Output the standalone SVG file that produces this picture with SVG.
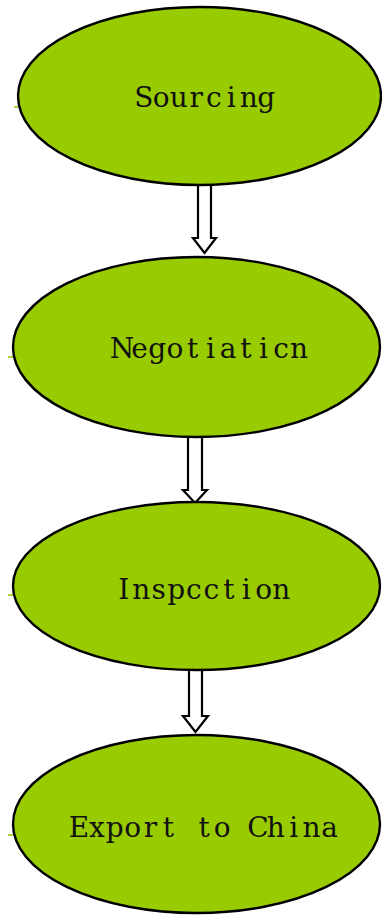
<svg xmlns="http://www.w3.org/2000/svg" width="382" height="915" viewBox="0 0 382 915">
<style>
.node ellipse{fill:#99cc00;stroke:#000;stroke-width:2.4}
.node text{font-family:"DejaVu Serif","Liberation Serif",serif;font-size:28px;fill:#111;text-anchor:middle}
.tick{stroke:#8fc400;stroke-width:1.5}
.arrow{fill:#fff;stroke:#000;stroke-width:2.2;stroke-linejoin:miter}
</style>
<rect width="382" height="915" fill="#fff"/>
<g id="connectors">
<path class="arrow" d="M198,186 L198,238 L193,238 L204.5,253 L216,238 L211,238 L211,186"/>
<path class="arrow" d="M188,438 L188,490 L183,490 L195,503 L207,490 L202,490 L202,438"/>
<path class="arrow" d="M189,671 L189,716 L183,716 L195.5,732 L208,716 L202,716 L202,671"/>
</g>
<g id="sourcing" class="node">
<ellipse cx="199.5" cy="96" rx="181.5" ry="89"/>
<line class="tick" x1="14" y1="107" x2="18" y2="107"/>
<text x="143.8 161.3 178.8 196.3 213.8 231.3 248.8 266.3" y="107">Sourcing</text>
</g>
<g id="negotiation" class="node">
<ellipse cx="196.5" cy="347" rx="183.5" ry="90"/>
<line class="tick" x1="8" y1="357" x2="13" y2="357"/>
<text x="121.9 139.6 157.3 175.0 192.7 210.4 228.1 245.8 263.5 281.2 298.9" y="358">Negotiaticn</text>
</g>
<g id="inspection" class="node">
<ellipse cx="196.5" cy="586" rx="183.5" ry="84"/>
<line class="tick" x1="8" y1="595" x2="13" y2="595"/>
<text x="123.8 141.3 158.8 176.3 193.8 211.3 228.8 246.3 263.8 281.3" y="599">Inspcction</text>
</g>
<g id="export" class="node">
<ellipse cx="196.5" cy="824" rx="183.5" ry="89"/>
<line class="tick" x1="8" y1="835" x2="13" y2="835"/>
<text x="78.9 96.8 114.7 132.6 150.5 168.4 186.3 204.2 222.1 240.0 257.9 275.8 293.7 311.6 329.5" y="837">Export to China</text>
</g>
</svg>
